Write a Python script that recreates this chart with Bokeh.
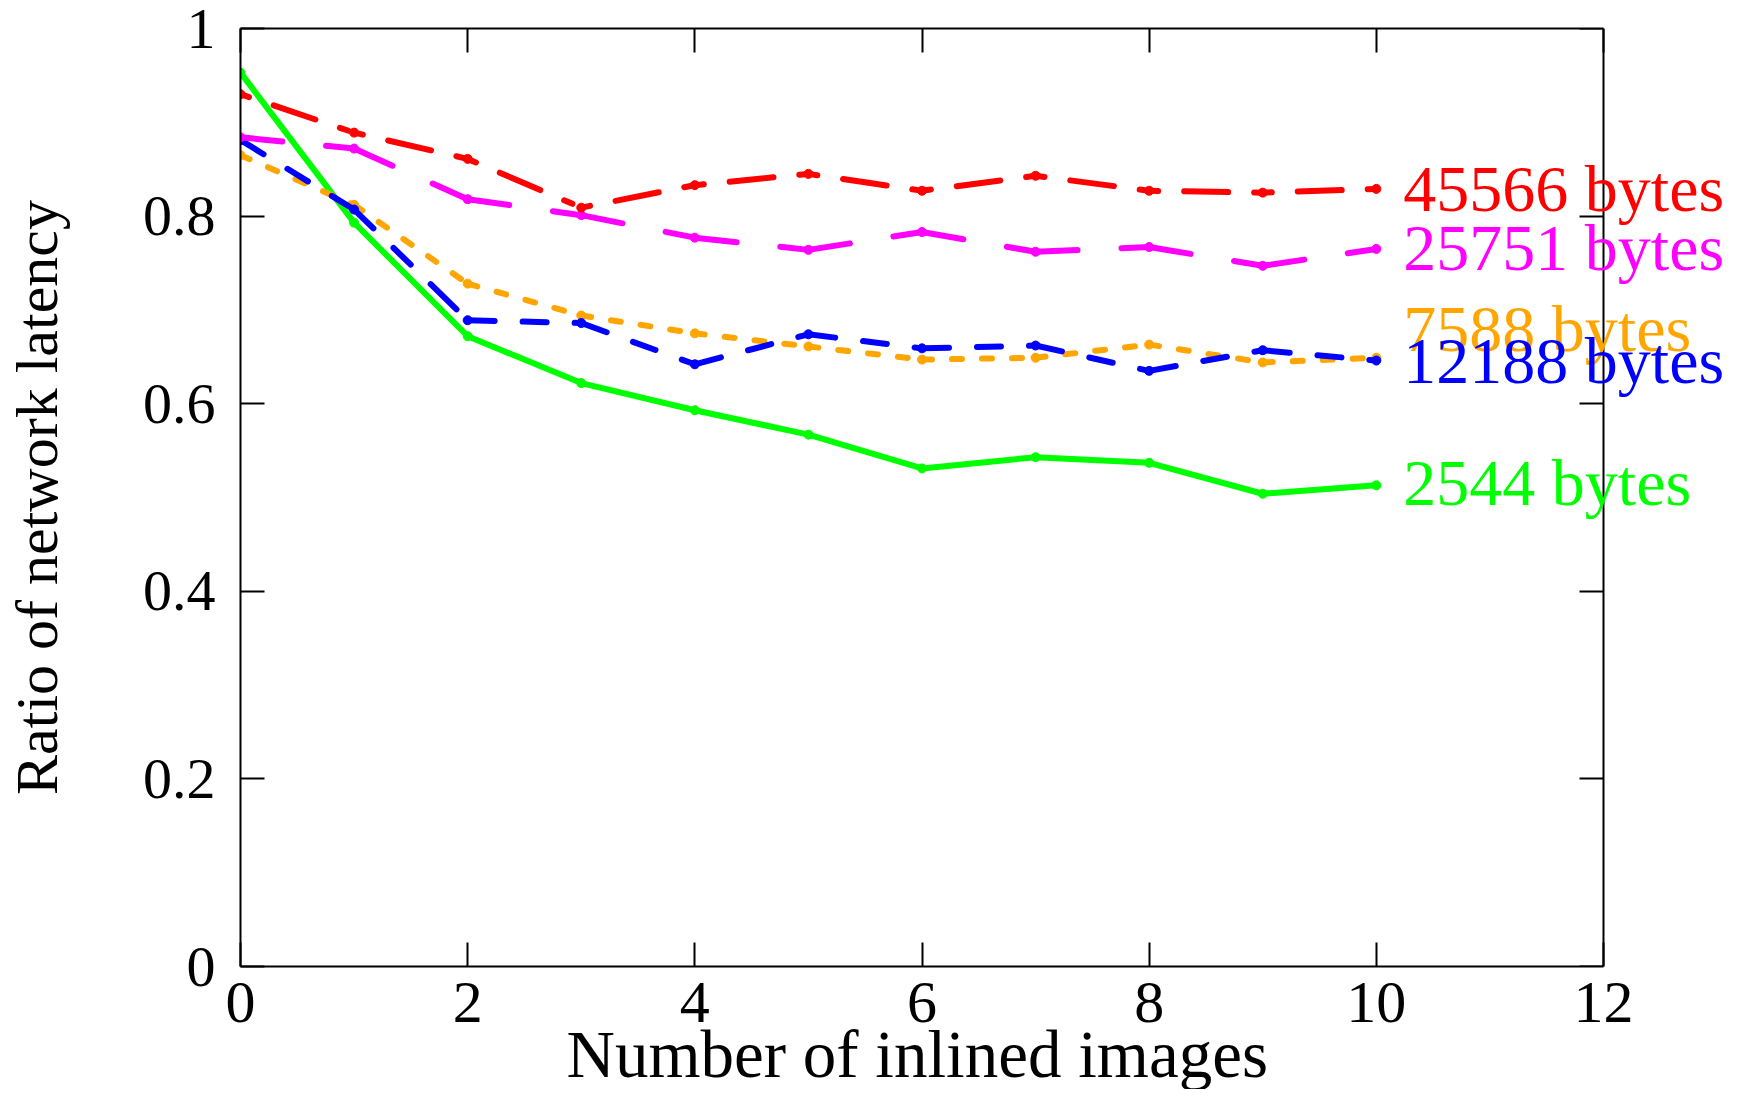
from bokeh.plotting import figure
from bokeh.models import Range1d, FixedTicker, LinearAxis, ColumnDataSource, LabelSet, Title
from bokeh.embed import file_html
from bokeh.resources import INLINE

# ---- data ----
images = [0, 1, 2, 3, 4, 5, 6, 7, 8, 9, 10]
ratio_2544 = [0.953, 0.793, 0.672, 0.622, 0.593, 0.567, 0.531, 0.543, 0.537, 0.504, 0.513]
ratio_7588 = [0.865, 0.812, 0.728, 0.694, 0.675, 0.661, 0.647, 0.649, 0.663, 0.644, 0.649]
ratio_12188 = [0.881, 0.807, 0.689, 0.686, 0.642, 0.674, 0.659, 0.662, 0.635, 0.657, 0.646]
ratio_25751 = [0.884, 0.872, 0.818, 0.801, 0.777, 0.764, 0.783, 0.762, 0.767, 0.747, 0.765]
ratio_45566 = [0.930, 0.889, 0.861, 0.809, 0.833, 0.845, 0.827, 0.843, 0.827, 0.825, 0.829]
series_labels = ["2544 bytes", "7588 bytes", "12188 bytes", "25751 bytes", "45566 bytes"]
x_ticks = [0, 2, 4, 6, 8, 10, 12]
y_ticks = [0, 0.2, 0.4, 0.6, 0.8, 1]
y_tick_labels = ["0", "0.2", "0.4", "0.6", "0.8", "1"]
x_title = "Number of inlined images"
y_title = "Ratio of network latency"
x_min, x_max = 0, 12

series = [ratio_2544, ratio_7588, ratio_12188, ratio_25751, ratio_45566]

# ---- styles / layout ----
colors = ["#00ff00", "#ffa500", "#0000ff", "#ff00ff", "#ff0000"]
dashes = ["solid", "10 20", "36 28 24 28", "70 44", "9 26 44 26"]
dash_offsets = [0, 0, 9, 28, 0]
label_dy = [-20, 7, -22, -21, -22]
FONT = "Liberation Serif"
LW = 6
W, H = 1736, 1089
FRAME_L, FRAME_R_AT_MAX = 240, 1603   # pixel where x_max sits
# the frame runs to the figure's right edge so the end labels are not clipped
x_end = x_max * (W - FRAME_L) / (FRAME_R_AT_MAX - FRAME_L)

p = figure(width=W, height=H,
           x_range=Range1d(x_min, x_end), y_range=Range1d(0, 1),
           output_backend="svg", toolbar_location=None,
           min_border_left=FRAME_L, min_border_right=0,
           min_border_top=28, min_border_bottom=123)
p.grid.visible = False
p.outline_line_color = None
p.background_fill_color = "white"
p.border_fill_color = "white"

top = LinearAxis()
right = LinearAxis()
p.add_layout(top, "above")
p.add_layout(right, "right")
right.fixed_location = x_max

for ax in [p.below[0], top]:
    ax.ticker = FixedTicker(ticks=x_ticks)
    ax.bounds = (x_min, x_max)
for ax in [p.left[0], right]:
    ax.ticker = FixedTicker(ticks=y_ticks)

for ax in [p.below[0], p.left[0], top, right]:
    ax.major_tick_in = 24
    ax.major_tick_out = 0
    ax.minor_tick_line_color = None
    ax.axis_line_width = 2
    ax.major_tick_line_width = 2
    ax.axis_line_color = "black"
    ax.major_tick_line_color = "black"
    ax.major_label_text_font = FONT
    ax.major_label_text_color = "black"

for ax in [top, right]:
    ax.major_label_text_font_size = "1px"
    ax.major_label_text_color = None
    ax.major_label_standoff = 0

p.left[0].major_label_overrides = {t: s for t, s in zip(y_ticks, y_tick_labels)}

bx = p.below[0]
bx.major_label_text_font_size = "60px"
bx.major_label_standoff = 16

# x title centred under the 0..12 span (the frame itself runs further right)
p.add_layout(Title(text=x_title, align="left", offset=326, standoff=-20,
                   text_font=FONT, text_font_size="67px", text_font_style="normal",
                   text_color="black"), "below")

ly = p.left[0]
ly.major_label_text_font_size = "58px"
ly.major_label_standoff = 25
ly.axis_label = y_title
ly.axis_label_text_font = FONT
ly.axis_label_text_font_size = "60px"
ly.axis_label_text_font_style = "normal"
ly.axis_label_text_color = "black"
ly.axis_label_standoff = 70

# ---- series ----
for vals, col, dash, off in zip(series, colors, dashes, dash_offsets):
    if dash == "solid":
        p.line(images, vals, line_color=col, line_width=LW, line_join="round", line_cap="round")
    else:
        p.segment(x0=images[:-1], y0=vals[:-1], x1=images[1:], y1=vals[1:],
                  line_color=col, line_width=LW, line_dash=dash,
                  line_dash_offset=off, line_cap="round")
    p.scatter(images, vals, size=9, marker="circle", fill_color=col, line_color=col)

# ---- end labels ----
lab_src = ColumnDataSource(dict(
    x=[images[-1]] * len(series),
    y=[s[-1] for s in series],
    text=series_labels,
    color=colors,
    dy=label_dy,
))
p.add_layout(LabelSet(x="x", y="y", text="text", source=lab_src, text_color="color",
                      x_offset=27, y_offset="dy", text_font=FONT, text_font_size="66px",
                      text_baseline="alphabetic", text_align="left"))

open("out.html", "w").write(file_html(p, INLINE))
